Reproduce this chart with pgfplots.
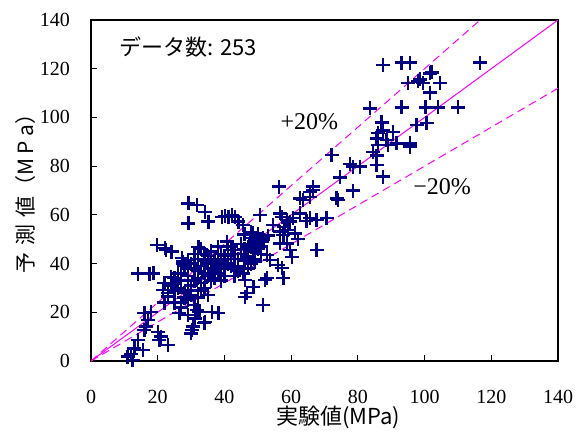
\documentclass[border=0pt]{standalone}
\usepackage{fontspec}
\setmainfont{Liberation Serif}
\newfontfamily\jp{Noto Sans CJK JP}
\usepackage{pgfplots}
\pgfplotsset{compat=1.18}
\definecolor{navyblue}{RGB}{0,0,128}
\definecolor{pinkline}{RGB}{255,0,255}

\pgfplotstableread{
x y
87.6 121.5
93.1 122.5
95.6 122.5
116.6 122.5
102.1 118.5
101.6 118.1
95.1 114.2
98.1 114.8
98.6 115.6
99.6 114.2
104.6 114.2
101.6 110.2
83.6 103.7
93.1 104.1
100.3 104.1
104.1 104.1
110.1 104.1
97.6 96.9
100.6 97.8
87.1 98.0
87.6 94.6
90.6 94.1
86.1 93.5
85.6 91.4
88.6 90.7
91.6 89.3
95.6 89.3
95.6 88.0
86.1 88.7
89.1 88.7
84.6 85.9
85.6 84.3
72.1 84.6
77.6 80.8
78.6 79.8
80.6 79.8
85.6 80.5
74.6 75.4
87.6 75.7
56.4 71.6
66.6 71.6
66.6 70.2
65.6 69.5
78.6 70.0
65.6 67.4
63.6 66.1
62.6 66.8
73.6 66.8
74.1 66.1
50.7 59.9
56.7 60.6
57.2 59.2
62.6 60.6
58.7 57.9
59.6 57.2
60.6 58.6
54.6 55.8
65.6 58.6
67.6 57.9
70.6 58.6
64.6 57.5
45.6 55.8
56.7 53.1
57.7 51.7
59.1 53.8
61.1 52.4
58.0 55.0
62.0 50.0
47.7 50.4
49.2 49.7
50.7 49.0
51.6 50.4
56.7 48.3
58.7 48.3
53.0 51.5
48.5 52.5
59.6 45.6
67.6 45.6
60.2 42.8
52.7 43.5
53.7 41.5
48.7 44.9
46.7 42.8
49.2 40.8
56.1 39.4
57.2 38.1
57.7 34.0
52.2 33.3
48.7 30.5
45.6 36.0
46.2 33.3
51.6 23.0
46.7 27.8
46.2 26.4
52.7 34.0
47.7 47.6
49.7 49.0
51.6 49.7
40.7 49.0
42.7 45.6
29.2 64.7
31.7 64.0
34.2 61.3
35.2 57.2
29.2 56.5
39.2 59.2
41.2 59.2
42.2 59.9
43.2 59.2
44.2 57.2
40.2 59.5
19.7 47.6
22.2 46.3
24.2 44.9
27.2 42.2
27.6 40.8
32.2 46.9
22.5 45.6
24.0 44.9
29.0 41.5
27.5 40.1
14.0 35.9
17.5 35.9
24.0 34.6
24.7 31.9
18.7 36.0
11.0 1.8
12.5 0.4
12.0 3.0
13.0 5.2
15.5 4.5
14.0 8.6
16.0 12.7
16.5 14.1
20.0 12.0
21.0 10.0
20.5 8.6
23.0 6.6
16.0 19.6
18.0 20.2
17.0 16.8
21.5 29.1
24.0 31.2
26.5 19.6
30.0 11.3
34.0 15.5
29.0 18.9
32.5 20.2
30.2 12.7
34.2 16.1
38.2 19.6
31.7 20.9
31.2 17.5
30.7 14.1
36.2 20.2
25.0 24.0
28.0 26.0
27.0 22.0
23.0 26.5
22.0 24.0
26 30
27 33
28 28
29 35
30 31
31 38
32 34
33 29
34 36
35 40
36 33
37 37
38 42
39 38
40 35
41 40
42 44
43 38
44 42
46 46
47 43
48 47
49 45
50 48
51 44
26 36
28 39
29 25
30 27
31 23
32 26
33 32
34 30
35 27
36 38
37 41
38 36
39 33
40 43
41 47
42 39
43 35
44 37
45 44
46 41
47 38
48 40
49 42
50 46
51 50
24 31
25 34
27 24
29 29
31 33
32 37
33 39
34 41
35 35
36 42
37 34
38 39
39 44
40 38
41 42
42 47
43 44
44 39
45 48
46 52
47 47
48 53
49 49
50 52
51 47
30 40
32 42
34 44
36 45
38 47
31 44
33 46
35 43
37 40
39 41
29 38
27 36
25 29
23 28
22 32
}\datatable

\begin{document}
\begin{tikzpicture}
\begin{axis}[
  scale only axis,
  width=233.5pt, height=170.5pt,
  xmin=0, xmax=140, ymin=0, ymax=140,
  xtick={0,20,...,140}, ytick={0,20,...,140},
  tick align=inside, tick pos=left,
  major tick length=3pt,
  tick style={black, line width=0.5pt},
  axis line style={black, line width=0.6pt},
  /pgf/number format/assume math mode=true,
  tick label style={font=\fontsize{10}{12}\selectfont},
  xticklabel style={yshift=-11pt},
  yticklabel style={xshift=-7pt},
  xlabel={\jp\fontsize{11}{13}\selectfont 実験値(MPa)},
  ylabel={\jp\fontsize{10.5}{13}\selectfont 予\hspace{0.35em}測\hspace{0.35em}値（M\hspace{0.2em}P\hspace{0.2em}a）},
  every axis x label/.style={at={(axis description cs:0.529,-0.164)}, anchor=center},
  every axis y label/.style={at={(axis description cs:-0.141,0.505)}, anchor=center, rotate=90},
  clip=true,
]
\addplot[pinkline, line width=0.5pt] coordinates {(0,0)(140,140)};
\addplot[pinkline, line width=0.5pt, dash pattern=on 4pt off 2.5pt] coordinates {(0,0)(116.667,140)};
\addplot[pinkline, line width=0.5pt, dash pattern=on 4pt off 2.5pt] coordinates {(0,0)(140,112)};
\addplot[only marks, mark=+, mark size=3.5pt, mark options={navyblue, line width=1.2pt}] table[x=x, y=y] {\datatable};
\node[font=\jp\fontsize{11}{13}\selectfont, anchor=west] at (axis cs:6.5,129) {データ数: 253};
\node[font=\fontsize{12}{14}\selectfont, anchor=west, inner sep=0pt] at (axis cs:56.7,98.1) {+20\%};
\node[font=\fontsize{12}{14}\selectfont, anchor=west, inner sep=0pt] at (axis cs:96.5,71.4) {−20\%};
\end{axis}
\pgfresetboundingbox
\path (current axis.south west) ++(-45.5pt,-37pt) coordinate (bl);
\path (current axis.north east) ++(14pt,10pt) coordinate (tr);
\path (bl) rectangle (tr);
\end{tikzpicture}
\end{document}
